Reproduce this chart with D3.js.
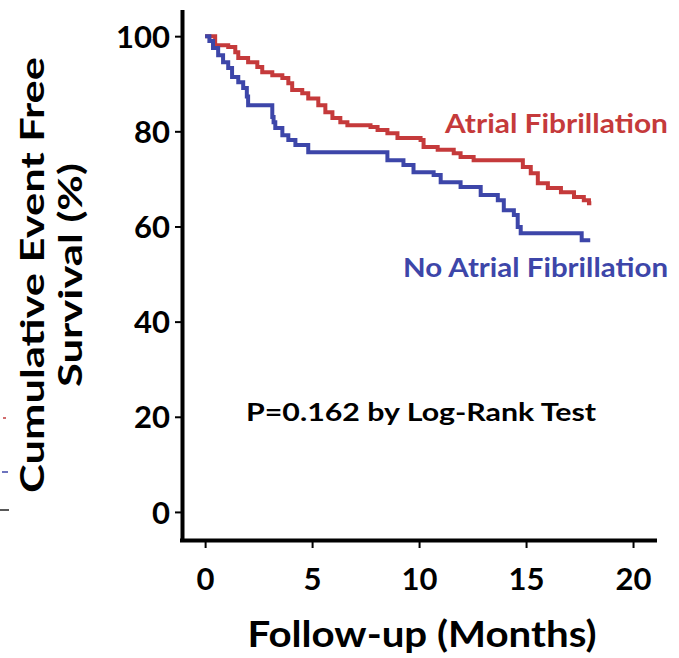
<!DOCTYPE html>
<html>
<head>
<meta charset="utf-8">
<script src="https://cdn.jsdelivr.net/npm/d3@7"></script>
<style>
  body { margin: 0; background: #fff; }
  svg { display: block; font-family: Lato, "Open Sans", sans-serif; }
</style>
</head>
<body>
<svg id="chart" width="679" height="658"></svg>
<script>
// Kaplan-Meier step data (months, % event free)
const afMonths = [0, 0.47, 1.08, 1.41, 1.55, 2.01, 2.44, 2.67, 3.14, 3.61, 3.89, 4.07, 4.54, 4.82, 5.29, 5.62, 5.95, 6.32, 6.65, 7.73, 8.06, 8.52, 8.99, 10.07, 10.21, 10.87, 11.62, 11.94, 12.55, 14.85, 15.22, 15.55, 16.02, 16.63, 17.24, 17.70, 17.94, 18.05];
const afSurvival = [100, 98.1, 97.7, 96.6, 95.4, 94.5, 93.5, 92.4, 91.8, 91.2, 90.1, 88.7, 88.0, 86.9, 85.5, 84.0, 82.8, 81.9, 81.3, 80.9, 80.3, 79.6, 78.6, 78.2, 76.7, 76.1, 75.4, 74.6, 73.9, 72.5, 71.2, 69.1, 68.1, 67.2, 66.2, 65.5, 64.9, 64.9];

const noAfMonths = [0, 0.2, 0.37, 0.61, 0.84, 1.08, 1.26, 1.55, 1.78, 1.95, 2.01, 3.14, 3.2, 3.28, 3.61, 3.89, 4.22, 4.82, 8.2, 8.52, 9.27, 9.74, 10.68, 11.01, 11.94, 12.88, 13.68, 13.96, 14.43, 14.61, 14.75, 17.6, 18.0];
const noAfSurvival = [100, 99.0, 97.5, 96.0, 94.5, 93.3, 91.4, 90.3, 89.1, 87.3, 85.5, 83.0, 81.9, 80.7, 79.2, 78.2, 77.1, 75.6, 75.6, 73.9, 72.9, 71.4, 70.8, 69.3, 68.3, 66.6, 65.5, 63.4, 62.4, 59.9, 58.6, 57.1, 57.1];

const xTicks = [0, 5, 10, 15, 20];
const yTicks = [0, 20, 40, 60, 80, 100];

const seriesNames = ["Atrial Fibrillation", "No Atrial Fibrillation"];
const seriesColors = ["#c53a3b", "#3d46a9"];

const svg = d3.select("#chart");

// axis extents go a little past the tick range, as in the figure
const x = d3.scaleLinear().domain([-1.08, 21.12]).range([182, 657]);
const y = d3.scaleLinear().domain([-5.9, 105.5]).range([540, 10]);

// series
const series = [
    afMonths.map((t, i) => [t, afSurvival[i]]),
    noAfMonths.map((t, i) => [t, noAfSurvival[i]])
];
const line = d3.line()
    .curve(d3.curveStepAfter)
    .x(d => x(d[0]))
    .y(d => y(d[1]));

svg.append("g")
    .attr("fill", "none")
    .attr("stroke-width", 4)
    .selectAll("path")
    .data(series)
    .join("path")
        .attr("stroke", (d, i) => seriesColors[i])
        .attr("d", line);

// axes
const xAxis = d3.axisBottom(x).tickValues(xTicks).tickSizeOuter(0).tickSize(8).tickPadding(20);
const yAxis = d3.axisLeft(y).tickValues(yTicks).tickSizeOuter(0).tickSize(7).tickPadding(5);

svg.append("g")
    .attr("transform", `translate(0,${y.range()[0]})`)
    .call(xAxis)
    .call(g => g.select(".domain").attr("stroke-width", 4).attr("d", `M${x.range()[0] - 2},0.5H${x.range()[1]}`))
    .call(g => g.selectAll(".tick line").attr("stroke-width", 2))
    .selectAll("text")
        .attr("font-size", 31)
        .attr("font-weight", "bold")
        .attr("fill", "#000")
        .attr("font-family", "Lato, sans-serif");

svg.append("g")
    .attr("transform", `translate(${x.range()[0]},0)`)
    .call(yAxis)
    .call(g => g.select(".domain").attr("stroke-width", 4).attr("d", `M0.5,${y.range()[1]}V${y.range()[0] + 2}`))
    .call(g => g.selectAll(".tick line").attr("stroke-width", 2))
    .selectAll("text")
        .attr("font-size", 31)
        .attr("font-weight", "bold")
        .attr("fill", "#000")
        .attr("font-family", "Lato, sans-serif")
        .attr("dy", "0.36em");

// axis titles
svg.append("text")
    .attr("x", 422)
    .attr("y", 647)
    .attr("text-anchor", "middle")
    .attr("font-size", 36)
    .attr("font-weight", "bold")
    .attr("textLength", 349)
    .attr("lengthAdjust", "spacingAndGlyphs")
    .text("Follow-up (Months)");

const yTitle = svg.append("g")
    .attr("transform", "translate(0,275) rotate(-90)")
    .attr("text-anchor", "middle")
    .attr("font-size", 33)
    .attr("font-weight", "bold");
yTitle.append("text").attr("y", 44).attr("textLength", 436).attr("lengthAdjust", "spacingAndGlyphs").text("Cumulative Event Free");
yTitle.append("text").attr("y", 82).attr("textLength", 224).attr("lengthAdjust", "spacingAndGlyphs").text("Survival (%)");

// series labels
svg.selectAll("text.series-label")
    .data(seriesNames)
    .join("text")
        .attr("class", "series-label")
        .attr("x", 668)
        .attr("y", (d, i) => i === 0 ? 133 : 277)
        .attr("text-anchor", "end")
        .attr("font-size", 27)
        .attr("font-weight", "bold")
        .attr("fill", (d, i) => seriesColors[i])
        .attr("textLength", (d, i) => i === 0 ? 223 : 265)
        .attr("lengthAdjust", "spacingAndGlyphs")
        .text(d => d);

svg.append("text")
    .attr("x", 246)
    .attr("y", 421)
    .attr("font-size", 24)
    .attr("font-weight", "bold")
    .attr("textLength", 350)
    .attr("lengthAdjust", "spacingAndGlyphs")
    .text("P=0.162 by Log-Rank Test");

// stray legend marks at the left edge of the figure
svg.append("g")
    .selectAll("line")
    .data([["#c23b3c", 418, 3, 6], ["#3d46a9", 472, 2, 8], ["#222", 510, 0, 9]])
    .join("line")
        .attr("x1", d => d[2]).attr("x2", d => d[3])
        .attr("y1", d => d[1]).attr("y2", d => d[1])
        .attr("stroke", d => d[0])
        .attr("stroke-width", 1.5);
</script>
</body>
</html>
